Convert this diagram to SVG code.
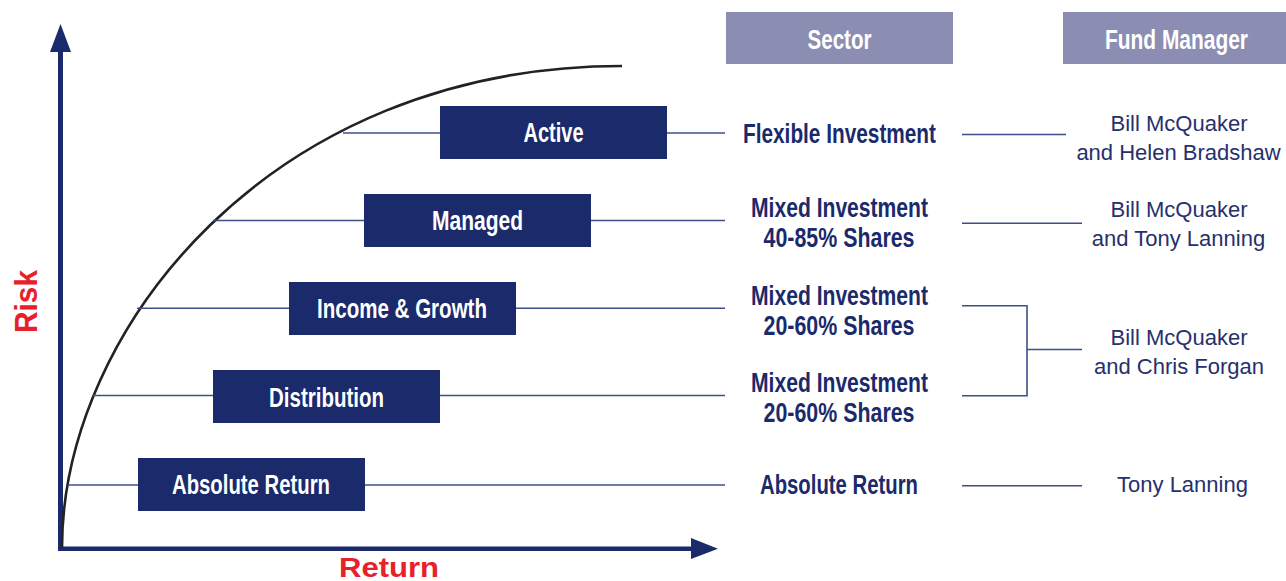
<svg xmlns="http://www.w3.org/2000/svg" width="1286" height="581" viewBox="0 0 1286 581">
<style>
.box{fill:#1a2a6b}
.hdr{fill:#8b8db3}
.bt{font-family:"Liberation Sans Narrow","Liberation Sans",Arial,sans-serif;font-weight:bold;font-size:27px;fill:#ffffff;text-anchor:middle}
.st{font-family:"Liberation Sans Narrow","Liberation Sans",Arial,sans-serif;font-weight:bold;font-size:27px;fill:#1a2a6b;text-anchor:middle}
.fm{font-family:"Liberation Sans",Arial,sans-serif;font-size:22px;fill:#26306c;text-anchor:middle}
.ax{font-family:"Liberation Sans",Arial,sans-serif;font-weight:bold;fill:#e8202a}
.ln{stroke:#3f4f8a;stroke-width:1.6;fill:none}
</style>
<rect width="1286" height="581" fill="#ffffff"/>
<g id="axes">
<line x1="60.5" y1="551" x2="60.5" y2="50" stroke="#1a2a6b" stroke-width="5"/>
<polygon points="50,52 71,52 60.5,24" fill="#1a2a6b"/>
<line x1="58" y1="548.8" x2="694" y2="548.8" stroke="#1a2a6b" stroke-width="4.6"/>
<polygon points="691,538 691,559 718,548.8" fill="#1a2a6b"/>
<text class="ax" font-size="31" transform="translate(36.5,301.5) rotate(-90)" text-anchor="middle" textLength="63" lengthAdjust="spacingAndGlyphs">Risk</text>
<text class="ax" x="389" y="577" font-size="27" text-anchor="middle" textLength="100" lengthAdjust="spacingAndGlyphs">Return</text>
</g>
<g id="curve">
<path d="M62,548 C62,330 270,66 622,66" fill="none" stroke="#222222" stroke-width="2.6"/>
</g>
<g id="connectors">
<line class="ln" x1="343" y1="133" x2="725" y2="133"/>
<line class="ln" x1="213" y1="220.5" x2="725" y2="220.5"/>
<line class="ln" x1="137" y1="308.3" x2="725" y2="308.3"/>
<line class="ln" x1="93" y1="395.5" x2="725" y2="395.5"/>
<line class="ln" x1="68" y1="485" x2="725" y2="485"/>
<line class="ln" x1="962" y1="134.5" x2="1066" y2="134.5"/>
<line class="ln" x1="962" y1="223.3" x2="1082" y2="223.3"/>
<polyline class="ln" points="962,305.7 1027,305.7 1027,395.7 962,395.7"/>
<line class="ln" x1="1027" y1="349.5" x2="1082" y2="349.5"/>
<line class="ln" x1="962" y1="485.7" x2="1082" y2="485.7"/>
</g>
<g id="header-sector">
<rect class="hdr" x="726" y="12" width="227" height="52"/>
<text class="bt" x="839.5" y="49" textLength="64" lengthAdjust="spacingAndGlyphs">Sector</text>
</g>
<g id="header-fund-manager">
<rect class="hdr" x="1063" y="12" width="223" height="52"/>
<text class="bt" x="1176.5" y="49" textLength="143" lengthAdjust="spacingAndGlyphs">Fund Manager</text>
</g>
<g id="node-active">
<rect class="box" x="440" y="106" width="227" height="53"/>
<text class="bt" x="553.5" y="142.3" textLength="60" lengthAdjust="spacingAndGlyphs">Active</text>
</g>
<g id="node-managed">
<rect class="box" x="364" y="194" width="227" height="53"/>
<text class="bt" x="477.5" y="230.3" textLength="91" lengthAdjust="spacingAndGlyphs">Managed</text>
</g>
<g id="node-income-growth">
<rect class="box" x="289" y="282" width="227" height="53"/>
<text class="bt" x="402" y="318.3" textLength="170" lengthAdjust="spacingAndGlyphs">Income &amp; Growth</text>
</g>
<g id="node-distribution">
<rect class="box" x="213" y="370" width="227" height="53"/>
<text class="bt" x="326.5" y="406.5" textLength="115" lengthAdjust="spacingAndGlyphs">Distribution</text>
</g>
<g id="node-absolute-return">
<rect class="box" x="138" y="458" width="227" height="53"/>
<text class="bt" x="251" y="494.3" textLength="158" lengthAdjust="spacingAndGlyphs">Absolute Return</text>
</g>
<g id="sector-flexible">
<text class="st" x="839.5" y="142.7" textLength="193" lengthAdjust="spacingAndGlyphs">Flexible Investment</text>
</g>
<g id="sector-mixed-40-85">
<text class="st" x="839.5" y="216.5" textLength="177" lengthAdjust="spacingAndGlyphs">Mixed Investment</text>
<text class="st" x="839" y="246.5" textLength="151" lengthAdjust="spacingAndGlyphs">40-85% Shares</text>
</g>
<g id="sector-mixed-20-60-a">
<text class="st" x="839.5" y="305" textLength="177" lengthAdjust="spacingAndGlyphs">Mixed Investment</text>
<text class="st" x="839" y="334.5" textLength="151" lengthAdjust="spacingAndGlyphs">20-60% Shares</text>
</g>
<g id="sector-mixed-20-60-b">
<text class="st" x="839.5" y="392" textLength="177" lengthAdjust="spacingAndGlyphs">Mixed Investment</text>
<text class="st" x="839" y="421.5" textLength="151" lengthAdjust="spacingAndGlyphs">20-60% Shares</text>
</g>
<g id="sector-absolute-return">
<text class="st" x="839" y="494" textLength="158" lengthAdjust="spacingAndGlyphs">Absolute Return</text>
</g>
<g id="fm-mcquaker-bradshaw">
<text class="fm" x="1179" y="130.5">Bill McQuaker</text>
<text class="fm" x="1178.5" y="159.5">and Helen Bradshaw</text>
</g>
<g id="fm-mcquaker-lanning">
<text class="fm" x="1179" y="217">Bill McQuaker</text>
<text class="fm" x="1178.5" y="246">and Tony Lanning</text>
</g>
<g id="fm-mcquaker-forgan">
<text class="fm" x="1179" y="345">Bill McQuaker</text>
<text class="fm" x="1179" y="374">and Chris Forgan</text>
</g>
<g id="fm-lanning">
<text class="fm" x="1182.5" y="491.5">Tony Lanning</text>
</g>
</svg>
